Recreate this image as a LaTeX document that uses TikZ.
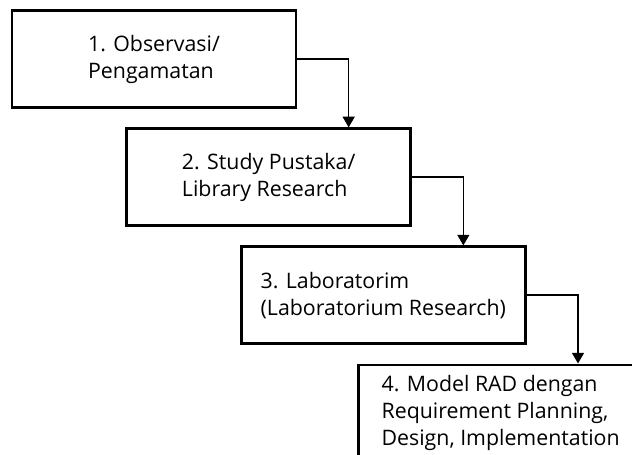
\documentclass[tikz,border=0pt]{standalone}
\usepackage{fontspec}
\setmainfont{Open Sans}
\usetikzlibrary{arrows.meta, positioning}

\begin{document}
\begin{tikzpicture}[
  x=0.75pt, y=-0.75pt,
  box/.style={draw, line width=1.8pt, align=left, minimum width=213pt, minimum height=72.75pt,
    inner sep=3pt, font=\fontsize{16}{20.3}\selectfont},
  flow/.style={->, line width=1.1pt},
  >={Triangle[width=9pt, length=8pt]}]
\useasboundingbox (0,0) rectangle (632,454);
\clip (0,0) rectangle (632,454);
\node[box] (obs) at (154,59) {1. Observasi/\\ Pengamatan};
\node[box, below=14pt of obs, xshift=86pt] (lib) {2. Study Pustaka/\\ Library Research};
\node[box, below=14pt of lib, xshift=86pt] (lab) {3. Laboratorim\\ (Laboratorium Research)};
\node[box, below=14pt of lab, xshift=88pt] (rad) {4. Model RAD dengan\\ Requirement Planning,\\ Design, Implementation};
\draw[flow] (obs.east) -| ([xshift=60pt]lib.north);
\draw[flow] (lib.east) -| ([xshift=60pt]lab.north);
\draw[flow] (lab.east) -| ([xshift=58pt]rad.north);
\end{tikzpicture}
\end{document}
